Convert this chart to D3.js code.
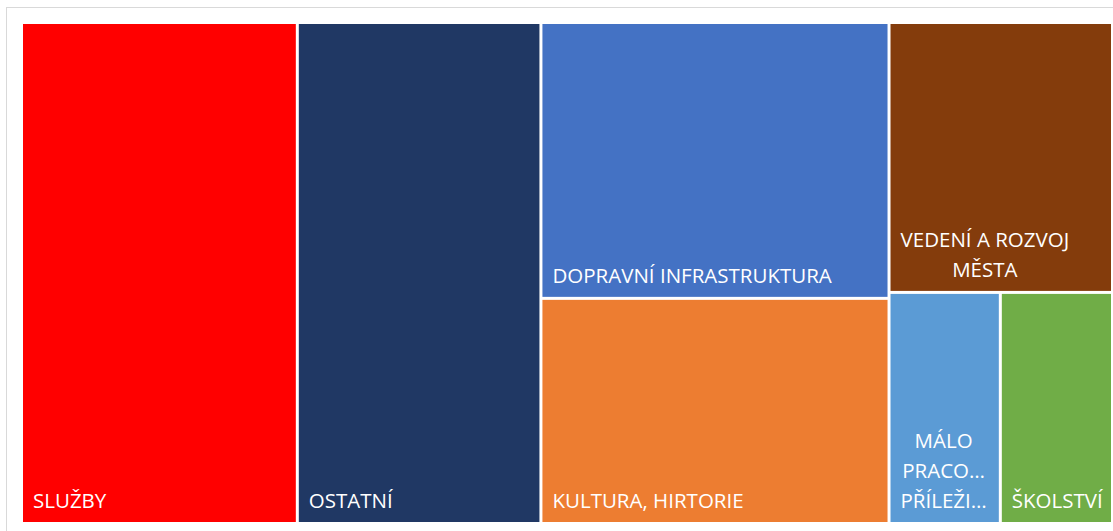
<!DOCTYPE html>
<html>
<head>
<meta charset="utf-8">
<script src="https://cdn.jsdelivr.net/npm/d3@7"></script>
<style>
  body { margin: 0; background: #fff; }
  svg { display: block; }
</style>
</head>
<body>
<script>
// values (relative areas)
const categories = ["SLUŽBY", "OSTATNÍ", "DOPRAVNÍ INFRASTRUKTURA", "KULTURA, HIRTORIE",
                    "VEDENÍ A ROZVOJ MĚSTA", "MÁLO PRACOVNÍCH PŘÍLEŽITOSTÍ", "ŠKOLSTVÍ"];
const values = [13.7, 12.1, 9.52, 7.77, 5.98, 2.55, 2.57];
const colors = ["#ff0000", "#203864", "#4472c4", "#ed7d31", "#843c0c", "#5b9bd5", "#70ad47"];
// how the tiles are grouped into columns (and a row inside the last column)
const columns = [[0], [1], [2, 3], [4, [5, 6]]];

const w = 1113, h = 531;
const svg = d3.select("body").append("svg")
              .attr("width", w)
              .attr("height", h)

svg.append("rect")
   .attr("x", 6.5).attr("y", 7.5)
   .attr("width", 1120).attr("height", 540)
   .attr("fill", "none")
   .attr("stroke", "#d9d9d9")

const toNode = c => Array.isArray(c)
    ? { children: c.map(toNode) }
    : { name: categories[c], value: values[c], color: colors[c] };

const data = { children: columns.map(toNode) };

const root = d3.hierarchy(data).sum(d => d.value || 0);

const tile = (node, x0, y0, x1, y1) => {
    if (node.depth % 2 === 0) d3.treemapDice(node, x0, y0, x1, y1);
    else d3.treemapSlice(node, x0, y0, x1, y1);
};

d3.treemap()
  .tile(tile)
  .size([1088, 498])
  .paddingInner(3)
  (root);

const g = svg.append("g").attr("transform", "translate(23,24)");

const cell = g.selectAll("g")
              .data(root.leaves())
              .enter()
              .append("g")
              .attr("transform", d => "translate(" + d.x0 + "," + d.y0 + ")")

cell.append("rect")
    .attr("width", d => d.x1 - d.x0)
    .attr("height", d => d.y1 - d.y0)
    .attr("fill", d => d.data.color)

const fontSize = 20.5, lineH = 30, pad = 10;

const measurer = svg.append("text")
                    .style("font-family", "'Open Sans', sans-serif")
                    .style("font-size", fontSize + "px")
                    .attr("visibility", "hidden")
const textW = s => { measurer.text(s); return measurer.node().getComputedTextLength(); };

function wrap(label, maxW, cutW) {
    const words = label.split(" ");
    const lines = [];
    let cur = "";
    words.forEach(word => {
        const test = cur ? cur + " " + word : word;
        if (textW(test) <= maxW) cur = test;
        else {
            if (cur) lines.push(cur);
            cur = word;
        }
    });
    if (cur) lines.push(cur);
    return lines.map(l => {
        if (textW(l) <= maxW) return l;
        let s = l;
        while (s.length > 1 && textW(s + "…") > cutW) s = s.slice(0, -1);
        return s + "…";
    });
}

cell.each(function (d) {
    const tw = d.x1 - d.x0, th = d.y1 - d.y0;
    const lines = wrap(d.data.name, tw - 14, tw - 2 * pad);
    const blockW = d3.max(lines, textW);
    const text = d3.select(this).append("text")
                   .attr("fill", "#fff")
                   .style("font-family", "'Open Sans', sans-serif")
                   .style("font-size", fontSize + "px")
                   .attr("text-anchor", lines.length > 1 ? "middle" : "start")
    const lastY = th - 14;
    text.selectAll("tspan")
        .data(lines)
        .enter()
        .append("tspan")
        .attr("x", lines.length > 1 ? pad + blockW / 2 : pad)
        .attr("y", (l, i) => lastY - (lines.length - 1 - i) * lineH)
        .text(l => l)
});

measurer.remove();
</script>
</body>
</html>
